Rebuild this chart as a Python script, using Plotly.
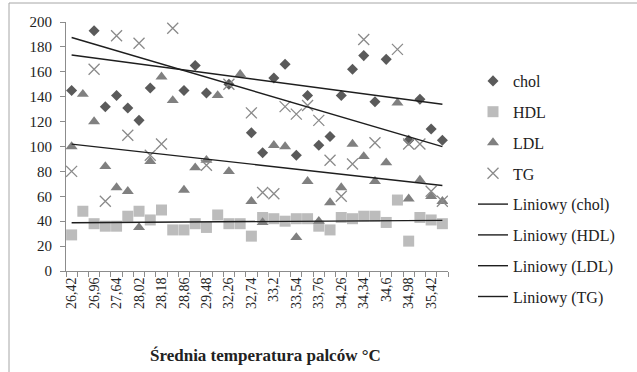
import numpy as np
import plotly.graph_objects as go

# Category labels (finger temperature, sorted); every second label is shown
categories = ["26,42", "26,7", "26,96", "27,3", "27,64", "27,9", "28,02", "28,1",
              "28,18", "28,5", "28,86", "29,2", "29,48", "31,5", "32,26", "32,5",
              "32,74", "33", "33,2", "33,4", "33,54", "33,7", "33,76", "34,1",
              "34,26", "34,3", "34,34", "34,5", "34,6", "34,8", "34,98", "35,2",
              "35,42", "35,6"]

# Series values (values above 200 lie outside the axis range and are clipped)
chol = [145, 230, 193, 132, 141, 131, 121, 147, 230, 235, 145, 165, 143, 228, 150, 232,
        111, 95, 155, 166, 93, 141, 101, 108, 141, 162, 173, 136, 170, 244, 105, 138,
        114, 105]
hdl = [29, 48, 38, 36, 36, 44, 48, 41, 49, 33, 33, 38, 35, 45, 38, 38,
       28, 43, 42, 40, 42, 42, 36, 33, 43, 42, 44, 44, 39, 57, 24, 43,
       41, 38]
ldl = [100, 142, 120, 84, 67, 64, 35, 88, 156, 137, 65, 83, 89, 141, 80, 158,
       56, 39, 101, 100, 27, 72, 40, 55, 67, 102, 92, 72, 87, 135, 58, 73,
       60, 56]
tg = [80, 400, 162, 56, 189, 109, 183, 93, 102, 195, 285, 275, 85, 265, 150, 257,
      127, 63, 62, 132, 126, 133, 121, 89, 60, 86, 186, 103, 210, 178, 102, 102,
      64, 56]

series_names = ["chol", "HDL", "LDL", "TG"]
trend_names = ["Liniowy (chol)", "Liniowy (HDL)", "Liniowy (LDL)", "Liniowy (TG)"]
x_title = "Średnia temperatura palców °C"
y_ticks = list(range(0, 201, 20))

W, H = 637, 372
ML, MR, MT, MB = 66, 189, 22, 101
PW, PH = W - ML - MR, H - MT - MB


def px_x(p):
    return (p - ML) / PW


def px_y(p):
    return (H - MB - p) / PH


xi = np.arange(len(categories))
serif = "Liberation Serif"

styles = [
    dict(symbol="diamond", size=8.5, color="#5a5a5a"),
    dict(symbol="square", size=11, color="#bcbcbc"),
    dict(symbol="triangle-up", size=10.5, color="#808080"),
    dict(symbol="x-thin", size=11, color="#8a8a8a", line=dict(width=1.3, color="#8a8a8a")),
]

fig = go.Figure()
data = [chol, hdl, ldl, tg]
for name, vals, st in zip(series_names, data, styles):
    fig.add_trace(go.Scatter(x=xi, y=vals, mode="markers", name=name, marker=st,
                             legendgroup=name, cliponaxis=True))

for tname, vals in zip(trend_names, data):
    b, a = np.polyfit(xi, np.array(vals, dtype=float), 1)
    xs = np.array([xi[0], xi[-1]])
    fig.add_trace(go.Scatter(x=xs, y=a + b * xs, mode="lines", name=tname,
                             line=dict(color="#1e1e1e", width=1.4), legendgroup=tname))

fig.update_layout(
    width=W, height=H,
    margin=dict(l=ML, r=MR, t=MT, b=MB),
    paper_bgcolor="white", plot_bgcolor="white",
    font=dict(family=serif, size=14, color="#222222"),
    showlegend=True,
    legend=dict(x=px_x(473), y=px_y(64), xanchor="left", yanchor="top",
                font=dict(family=serif, size=16, color="#222222"),
                tracegroupgap=7, bgcolor="rgba(0,0,0,0)", itemwidth=30,
                maxheight=400),
    xaxis=dict(range=[-0.5, len(categories) - 0.5], showgrid=False, zeroline=False,
               showline=True, linecolor="#8c8c8c", linewidth=1,
               tickmode="array", tickvals=xi[::2].tolist(), ticktext=categories[::2],
               ticks="", tickangle=-90, tickfont=dict(family=serif, size=14, color="#222222"),
               minor=dict(tickmode="array", tickvals=(np.arange(len(categories) + 1) - 0.5).tolist(),
                          ticks="outside", ticklen=5, tickcolor="#8c8c8c", showgrid=False)),
    yaxis=dict(range=[0, 200], tickvals=y_ticks, showgrid=False, zeroline=False,
               showline=True, linecolor="#8c8c8c", linewidth=1,
               ticks="outside", ticklen=5, tickcolor="#8c8c8c", ticklabelstandoff=5,
               tickfont=dict(family=serif, size=15, color="#222222")),
    shapes=[dict(type="rect", xref="paper", yref="paper",
                 x0=px_x(9), x1=px_x(660), y0=px_y(400), y1=px_y(3),
                 line=dict(color="#a6a6a6", width=1), fillcolor="rgba(0,0,0,0)", layer="below")],
    annotations=[dict(text="<b>" + x_title + "</b>", xref="paper", yref="paper",
                      x=px_x(265), y=px_y(355), xanchor="center", yanchor="middle",
                      showarrow=False, font=dict(family=serif, size=17, color="#222222"))],
)

fig.write_html("out.html")
